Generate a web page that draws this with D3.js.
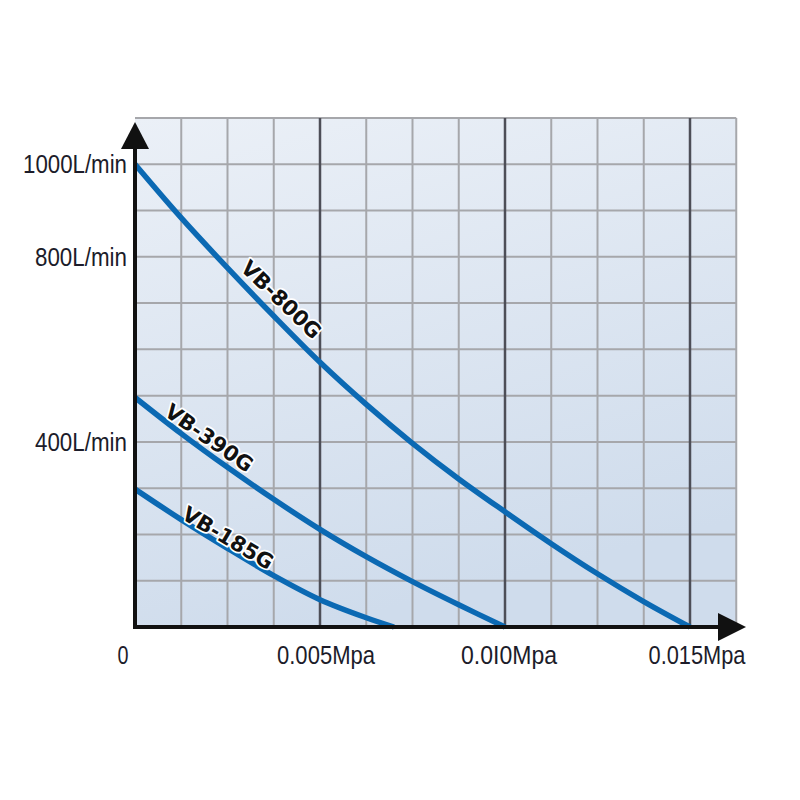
<!DOCTYPE html>
<html>
<head>
<meta charset="utf-8">
<script src="https://cdn.jsdelivr.net/npm/d3@7"></script>
<style>
  html, body { margin: 0; padding: 0; background: #ffffff; }
  svg { display: block; }
</style>
</head>
<body>
<svg id="chart" width="800" height="800"></svg>
<script>
// ---------- DATA ----------
const xTickValues = [0, 0.005, 0.010, 0.015];
const xTickLabels = ["0", "0.005Mpa", "0.0I0Mpa", "0.015Mpa"];
const yTickValues = [1000, 800, 400];
const yTickLabels = ["1000L/min", "800L/min", "400L/min"];

const seriesNames = ["VB-800G", "VB-390G", "VB-185G"];
const pressure800 = [0, 0.00125, 0.0025, 0.00375, 0.005, 0.00625, 0.0075, 0.00875, 0.010, 0.01125, 0.0125, 0.01375, 0.015];
const flow800     = [1000, 884, 776, 672, 572, 481, 397, 320, 249, 180, 115, 55, 0];
const pressure390 = [0, 0.00125, 0.0025, 0.00375, 0.005, 0.00625, 0.0075, 0.00875, 0.010];
const flow390     = [496, 418, 345, 276, 211, 152, 98, 48, 0];
const pressure185 = [0, 0.00125, 0.0025, 0.00375, 0.005, 0.00625, 0.007];
const flow185     = [298, 232, 170, 111, 59, 20, 0];

// label anchors (data coordinates) and rotation
const labelPressure = [0.00395, 0.0020, 0.00251];
const labelFlow     = [707, 408, 192];
const labelAngle    = [44, 35, 31];

// ---------- LAYOUT ----------
const svg = d3.select("#chart");
const x = d3.scaleLinear().domain([0, 0.01625]).range([135, 736.25]);
const y = d3.scaleLinear().domain([0, 1100]).range([627, 118]);

const defs = svg.append("defs");
const grad = defs.append("linearGradient").attr("id", "bg")
  .attr("x1", "0%").attr("y1", "0%").attr("x2", "30%").attr("y2", "100%");
grad.append("stop").attr("offset", "0%").attr("stop-color", "#ebf0f7");
grad.append("stop").attr("offset", "100%").attr("stop-color", "#cfdcec");

svg.append("rect")
  .attr("x", x(0)).attr("y", y(1100))
  .attr("width", x(0.01625) - x(0)).attr("height", y(0) - y(1100))
  .attr("fill", "url(#bg)");

// grid
const gridX = d3.range(1, 14).map(i => i * 0.00125);
const gridY = d3.range(1, 12).map(i => i * 100);
const isMajor = v => xTickValues.slice(1).some(t => Math.abs(t - v) < 1e-9);

const g = svg.append("g");
g.selectAll("line.h").data(gridY).enter().append("line")
  .attr("x1", x(0)).attr("x2", x(0.01625))
  .attr("y1", d => y(d)).attr("y2", d => y(d))
  .attr("stroke", "#a6a7ab").attr("stroke-width", 2);
g.selectAll("line.v").data(gridX.filter(v => !isMajor(v))).enter().append("line")
  .attr("x1", d => x(d)).attr("x2", d => x(d))
  .attr("y1", y(0)).attr("y2", y(1100))
  .attr("stroke", "#a6a7ab").attr("stroke-width", 2);
g.selectAll("line.vm").data(gridX.filter(isMajor)).enter().append("line")
  .attr("x1", d => x(d)).attr("x2", d => x(d))
  .attr("y1", y(0)).attr("y2", y(1100))
  .attr("stroke", "#4d4e57").attr("stroke-width", 2.5);

// curves
const line = d3.line().x(d => x(d[0])).y(d => y(d[1])).curve(d3.curveCatmullRom.alpha(0.5));
const series = [
  d3.zip(pressure800, flow800),
  d3.zip(pressure390, flow390),
  d3.zip(pressure185, flow185)
];
svg.append("g").selectAll("path").data(series).enter().append("path")
  .attr("d", line)
  .attr("fill", "none")
  .attr("stroke", "#0b69b3")
  .attr("stroke-width", 5.5)
  .attr("stroke-linecap", "butt");

// axes
const axisColor = "#111";
svg.append("line")
  .attr("x1", x(0)).attr("x2", 720)
  .attr("y1", y(0)).attr("y2", y(0))
  .attr("stroke", axisColor).attr("stroke-width", 4);
svg.append("path")
  .attr("d", `M718,${y(0) - 14} L746,${y(0)} L718,${y(0) + 14} Z`)
  .attr("fill", axisColor);
svg.append("line")
  .attr("x1", x(0)).attr("x2", x(0))
  .attr("y1", y(0) + 2).attr("y2", 148)
  .attr("stroke", axisColor).attr("stroke-width", 4);
svg.append("path")
  .attr("d", `M${x(0) - 14},149 L${x(0)},122 L${x(0) + 14},149 Z`)
  .attr("fill", axisColor);

// axis labels
const labelFont = "'Liberation Sans Narrow', 'Liberation Sans', Arial, sans-serif";
svg.append("g").selectAll("text").data(yTickValues).enter().append("text")
  .attr("x", 127)
  .attr("y", d => y(d) + 9)
  .attr("text-anchor", "end")
  .attr("font-family", labelFont)
  .attr("font-size", 25)
  .attr("fill", "#1c1c2a")
  .attr("textLength", (d, i) => i === 0 ? 104 : 92)
  .attr("lengthAdjust", "spacingAndGlyphs")
  .text((d, i) => yTickLabels[i]);

const xLabelWidths = [11, 98, 96, 97];
const xLabelShift = [-12, 6, 4, 7];
svg.append("g").selectAll("text").data(xTickValues).enter().append("text")
  .attr("x", (d, i) => x(d) + xLabelShift[i])
  .attr("y", 664)
  .attr("text-anchor", "middle")
  .attr("font-family", labelFont)
  .attr("font-size", 25)
  .attr("fill", "#1c1c2a")
  .attr("textLength", (d, i) => xLabelWidths[i])
  .attr("lengthAdjust", "spacingAndGlyphs")
  .text((d, i) => xTickLabels[i]);

// series labels
svg.append("g").selectAll("text").data(seriesNames).enter().append("text")
  .attr("transform", (d, i) => `translate(${x(labelPressure[i])},${y(labelFlow[i])}) rotate(${labelAngle[i]})`)
  .attr("text-anchor", "middle")
  .attr("dominant-baseline", "central")
  .attr("font-family", "'DejaVu Sans', sans-serif")
  .attr("font-weight", "bold")
  .attr("font-size", 21)
  .attr("fill", "#111")
  .attr("stroke", "#ffffff")
  .attr("stroke-width", 3.5)
  .attr("stroke-linejoin", "round")
  .attr("paint-order", "stroke")
  .text(d => d);
</script>
</body>
</html>
